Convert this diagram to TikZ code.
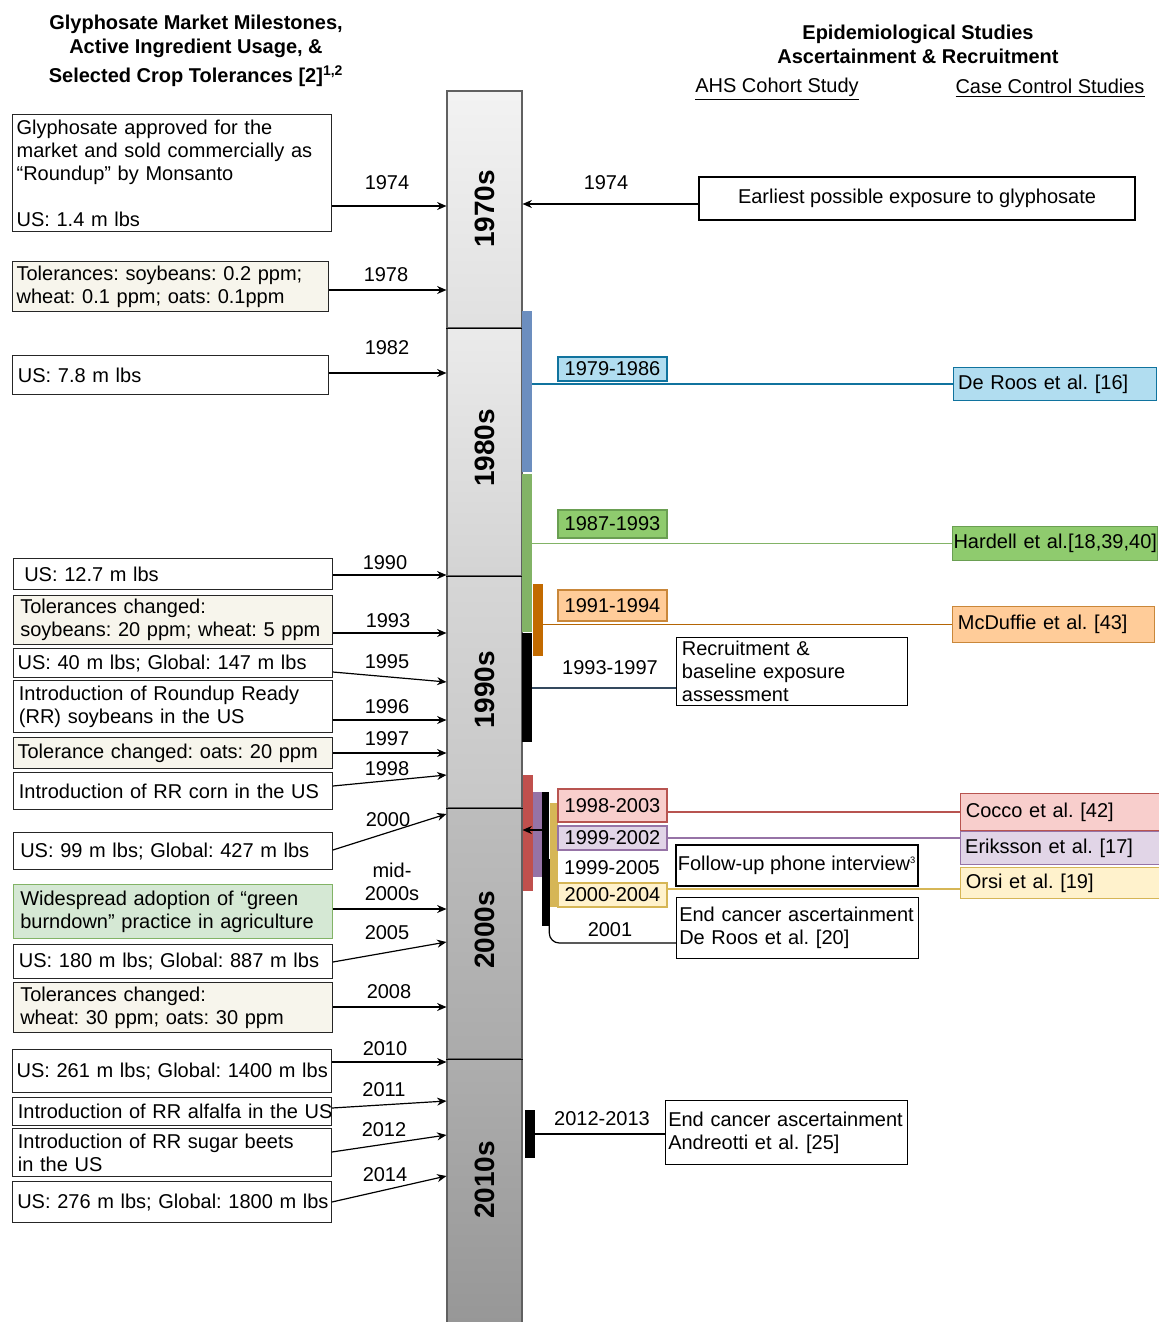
\documentclass[tikz,border=0pt]{standalone}
\usepackage{fontspec}
\setmainfont{Liberation Sans}
\usetikzlibrary{arrows.meta}
\frenchspacing
\newcommand\myfs{\fontsize{15}{17.25}\selectfont\frenchspacing}
\definecolor{beigec}{HTML}{F7F5EC}
\definecolor{greenfill}{HTML}{D5E8D4}
\definecolor{greenedge}{HTML}{82B366}
\definecolor{bluefill}{HTML}{B1DDF0}
\definecolor{blueedge}{HTML}{10739E}
\definecolor{bluebarc}{HTML}{6C8EBF}
\definecolor{hardfill}{HTML}{8FCB6E}
\definecolor{hardedge}{HTML}{6A9F52}
\definecolor{orfill}{HTML}{FFCC99}
\definecolor{oredge}{HTML}{C9873A}
\definecolor{orbarc}{HTML}{C26A00}
\definecolor{orline}{HTML}{B46504}
\definecolor{redfill}{HTML}{F8CECC}
\definecolor{rededge}{HTML}{B85450}
\definecolor{redbarc}{HTML}{C0504D}
\definecolor{purfill}{HTML}{E1D5E7}
\definecolor{puredge}{HTML}{9673A6}
\definecolor{yelfill}{HTML}{FFF2CC}
\definecolor{yeledge}{HTML}{D6B656}
\definecolor{slate}{HTML}{34495E}
\begin{document}
\begin{tikzpicture}[x=0.75pt,y=-0.75pt,
  every node/.style={font=\myfs},
  lbox/.style={draw=black!85, line width=0.9pt, fill=white, anchor=north west, align=left,
     inner xsep=3pt, inner ysep=0pt, minimum width=239pt, text width=233pt},
  dec/.style={draw=gray!75!black, line width=0.8pt, minimum width=56.25pt, inner sep=0pt},
  declab/.style={rotate=90, inner sep=0pt, font=\bfseries\fontsize{21}{21}\selectfont},
  bar/.style={inner sep=0pt, draw=none},
  lab/.style={line width=0.8pt, minimum width=81.75pt, inner sep=0pt, align=center},
  study/.style={line width=0.8pt, anchor=north west, align=left, inner ysep=0pt},
  nbox/.style={draw=black, line width=0.9pt, fill=white, inner ysep=0pt, inner xsep=3pt},
  arr/.style={-{Stealth[length=7pt,width=6pt]}, line width=0.9pt},
  yr/.style={inner sep=0pt},
  conn/.style={line width=0.9pt}
]
\path[use as bounding box, fill=white] (0,0) rectangle (1158,1322);

% ---------- headers
\node[font=\bfseries\fontsize{15}{18}\selectfont\frenchspacing, align=center, inner sep=0pt] (hleft) at (196,51)
  {Glyphosate Market Milestones,\\Active Ingredient Usage, \&\\[3.5pt]Selected Crop Tolerances [2]\textsuperscript{1,2}};
\node[font=\bfseries\fontsize{15}{18}\selectfont, align=center, inner sep=0pt] (hright) at (918,44)
  {Epidemiological Studies\\Ascertainment \& Recruitment};
\node[inner sep=0pt] (hahs) at (777,89) {\underline{AHS Cohort Study}};
\node[inner sep=0pt] (hcc) at (1050,88) {\underline{Case Control Studies}};

% ---------- timeline
\node[dec, top color=black!5, bottom color=black!12, minimum height=177.75pt] (d70) at (484.5,209.5) {};
\node[dec, top color=black!8, bottom color=black!17, minimum height=186pt] (d80) at (484.5,452) {};
\node[dec, top color=black!16, bottom color=black!22, minimum height=174pt] (d90) at (484.5,692) {};
\node[dec, top color=black!26, bottom color=black!33, minimum height=188.25pt] (d00) at (484.5,933.5) {};
\node[dec, top color=black!32, bottom color=black!41, minimum height=203.25pt] (d10) at (484.5,1194.5) {};
\draw[line width=0.8pt] (d70.south west) -- (d70.south east);
\draw[line width=0.8pt] (d80.south west) -- (d80.south east);
\draw[line width=0.8pt] (d90.south west) -- (d90.south east);
\draw[line width=0.8pt] (d00.south west) -- (d00.south east);
\node[declab] (t70) at (485,209) {1970s};
\node[declab] (t80) at (485,448) {1980s};
\node[declab] (t90) at (485,690) {1990s};
\node[declab] (t00) at (485,930) {2000s};
\node[declab] (t10) at (485,1180) {2010s};

% ---------- left boxes
\node[lbox, minimum height=87.75pt] (bA) at (12,114)
  {Glyphosate approved for the\\market and sold commercially as\\“Roundup” by Monsanto\\[17.25pt]US: 1.4 m lbs};
\node[lbox, fill=beigec, minimum width=237pt, text width=231pt, minimum height=37.5pt] (bB) at (12,261)
  {Tolerances: soybeans: 0.2 ppm;\\wheat: 0.1 ppm; oats: 0.1ppm};
\node[lbox, minimum width=237pt, text width=231pt, minimum height=29.25pt] (bC) at (12,355) {\hspace*{1pt}US: 7.8 m lbs};
\node[lbox, minimum height=23.25pt] (bD) at (13,558) {\hspace*{5pt}US: 12.7 m lbs};
\node[lbox, fill=beigec, minimum height=36.75pt] (bE) at (13,595)
  {\hspace*{2pt}Tolerances changed:\\\hspace*{2pt}soybeans: 20 ppm; wheat: 5 ppm};
\node[lbox, minimum height=21.75pt] (bF) at (13,648) {\mbox{US: 40 m lbs; Global: 147 m lbs}};
\node[lbox, minimum height=39pt] (bG) at (13,680)
  {\hspace*{1pt}Introduction of Roundup Ready\\\hspace*{1pt}(RR) soybeans in the US};
\node[lbox, fill=beigec, minimum height=23.25pt] (bH) at (13,737) {\mbox{Tolerance changed: oats: 20 ppm}};
\node[lbox, minimum height=27.75pt] (bI) at (13,772) {\mbox{\hspace*{1pt}Introduction of RR corn in the US}};
\node[lbox, minimum height=27.75pt] (bJ) at (13,832) {\mbox{\hspace*{2pt}US: 99 m lbs; Global: 427 m lbs}};
\node[lbox, draw=greenedge, fill=greenfill, minimum height=40.5pt] (bK) at (13,884)
  {\hspace*{2pt}Widespread adoption of “green\\\hspace*{2pt}burndown” practice in agriculture};
\node[lbox, minimum height=25.5pt] (bL) at (13,944) {\mbox{\hspace*{1pt}US: 180 m lbs; Global: 887 m lbs}};
\node[lbox, fill=beigec, minimum height=37.5pt] (bM) at (13,982)
  {\hspace*{2pt}Tolerances changed:\\\hspace*{2pt}wheat: 30 ppm; oats: 30 ppm};
\node[lbox, inner xsep=2pt, minimum height=32.25pt] (bN) at (12,1049) {\mbox{US: 261 m lbs; Global: 1400 m lbs}};
\node[lbox, inner xsep=1pt, text width=237pt, minimum height=21pt] (bO) at (12,1097)
  {\mbox{\hspace*{3pt}Introduction of RR alfalfa in the US}};
\node[lbox, minimum height=36pt] (bP) at (12,1128)
  {\hspace*{1pt}Introduction of RR sugar beets\\\hspace*{1pt}in the US};
\node[lbox, minimum height=30.75pt] (bQ) at (12,1181) {\mbox{\hspace*{0.5pt}US: 276 m lbs; Global: 1800 m lbs}};

% ---------- left arrows
\draw[arr] (bA.east |- 0,206) -- (d70.west |- 0,206);
\draw[arr] (bB.east |- 0,290) -- (d70.west |- 0,290);
\draw[arr] (bC.east |- 0,373) -- (d80.west |- 0,373);
\draw[arr] (bD.east |- 0,575) -- (d80.west |- 0,575);
\draw[arr] (bE.east |- 0,633) -- (d90.west |- 0,633);
\draw[arr] (bF.east |- 0,672) -- (d90.west |- 0,682);
\draw[arr] (bG.east |- 0,720) -- (d90.west |- 0,720);
\draw[arr] (bH.east |- 0,753) -- (d90.west |- 0,753);
\draw[arr] (bI.east |- 0,786) -- (d90.west |- 0,775);
\draw[arr] (bJ.east |- 0,850) -- (d00.west |- 0,814);
\draw[arr] (bK.east |- 0,909) -- (d00.west |- 0,909);
\draw[arr] (bL.east |- 0,962) -- (d00.west |- 0,942);
\draw[arr] (bM.east |- 0,1007) -- (d00.west |- 0,1007);
\draw[arr] (bN.east |- 0,1062) -- (d10.west |- 0,1062);
\draw[arr] (bO.east |- 0,1108) -- (d10.west |- 0,1101);
\draw[arr] (bP.east |- 0,1152) -- (d10.west |- 0,1135);
\draw[arr] (bQ.east |- 0,1202) -- (d10.west |- 0,1176);

% ---------- left year labels
\node[yr] (y1974) at (387,183) {1974};
\node[yr] (y1978) at (386,275) {1978};
\node[yr] (y1982) at (387,348) {1982};
\node[yr] (y1990) at (385,563) {1990};
\node[yr] (y1993) at (388,621) {1993};
\node[yr] (y1995) at (387,662) {1995};
\node[yr] (y1996) at (387,707) {1996};
\node[yr] (y1997) at (387,739) {1997};
\node[yr] (y1998) at (387,769) {1998};
\node[yr] (y2000) at (388,820) {2000};
\node[yr, align=center] (ymid) at (392,882) {mid-\\2000s};
\node[yr] (y2005) at (387,933) {2005};
\node[yr] (y2008) at (389,992) {2008};
\node[yr] (y2010) at (385,1049) {2010};
\node[yr] (y2011) at (384,1090) {2011};
\node[yr] (y2012) at (384,1130) {2012};
\node[yr] (y2014) at (385,1175) {2014};

% ---------- right: earliest exposure
\node[nbox, minimum width=327pt, minimum height=32.25pt] (earliest) at (917,198.5)
  {Earliest possible exposure to glyphosate};
\draw[arr] (earliest.west |- 0,204) -- (d70.east |- 0,204);
\node[yr] (r1974) at (606,183) {1974};

% ---------- bars
\node[bar, fill=bluebarc, minimum width=7.5pt, minimum height=120.75pt] (bblue) at (527,391.5) {};
\node[bar, fill=greenedge, minimum width=7.5pt, minimum height=118.5pt] (bgreen) at (527,553) {};
\node[bar, fill=orbarc, minimum width=7.5pt, minimum height=54pt] (borange) at (538,620) {};
\node[bar, fill=black, minimum width=7.5pt, minimum height=81.75pt] (bblack) at (527,687.5) {};
\node[bar, fill=redbarc, minimum width=7.5pt, minimum height=87pt] (bred) at (528,833) {};
\node[bar, fill=puredge, minimum width=6.75pt, minimum height=63.75pt] (bpurple) at (537.5,834.5) {};
\node[bar, fill=black, minimum width=5.25pt, minimum height=100.5pt] (bblack2) at (545.5,859) {};
\node[bar, fill=yeledge, minimum width=6pt, minimum height=78pt] (byellow) at (554,855) {};
\node[bar, fill=black, minimum width=7.5pt, minimum height=36pt] (bblack3) at (530,1134) {};

% ---------- study boxes (right)
\node[study, draw=blueedge, fill=bluefill, minimum width=152.25pt, minimum height=24.75pt,
      inner xsep=3.5pt, text width=145.25pt] (sDeRoos) at (953,367) {De Roos et al. [16]};
\node[study, draw=hardedge, fill=hardfill, minimum width=153.75pt, minimum height=25.5pt,
      inner xsep=0.75pt, text width=152.25pt] (sHardell) at (952,526) {\mbox{Hardell et al.[18,39,40]}};
\node[study, draw=oredge, fill=orfill, minimum width=151.5pt, minimum height=27pt,
      inner xsep=4pt, text width=143.5pt] (sMcDuffie) at (952,606) {McDuffie et al. [43]};
\node[study, draw=rededge, fill=redfill, minimum width=153.75pt, minimum height=27.75pt,
      inner xsep=4pt, text width=145.75pt] (sCocco) at (960,793) {Cocco et al. [42]};
\node[study, draw=puredge, fill=purfill, minimum width=153.75pt, minimum height=24.75pt,
      inner xsep=3.5pt, text width=146.75pt] (sEriksson) at (960,831) {Eriksson et al. [17]};
\node[study, draw=yeledge, fill=yelfill, minimum width=153.75pt, minimum height=23.25pt,
      inner xsep=4pt, text width=145.75pt] (sOrsi) at (960,867) {Orsi et al. [19]};

% ---------- AHS boxes
\node[nbox, anchor=north west, align=left, minimum width=173.25pt, minimum height=51pt,
      text width=167.25pt] (recruit) at (676,637) {\hspace*{1pt}Recruitment \&\\\hspace*{1pt}baseline exposure\\\hspace*{1pt}assessment};
\node[nbox, inner xsep=1pt, minimum width=181.5pt, minimum height=30.75pt] (followup) at (797,865.5)
  {Follow-up phone interview\textsuperscript{\fontsize{7}{7}\selectfont 3}};
\node[nbox, anchor=north west, align=left, inner xsep=2pt, minimum width=181.5pt, minimum height=45.75pt,
      text width=177.5pt] (endDR) at (676,897) {\mbox{End cancer ascertainment}\\De Roos et al. [20]};
\node[nbox, anchor=north west, align=left, inner xsep=2pt, minimum width=181.5pt, minimum height=48pt,
      text width=177.5pt] (endAn) at (665,1100) {\mbox{End cancer ascertainment}\\Andreotti et al. [25]};

% ---------- connector lines
\draw[conn, blueedge] (bblue.east |- sDeRoos.west) -- (sDeRoos.west);
\draw[conn, greenedge] (bgreen.east |- sHardell.west) -- (sHardell.west);
\draw[conn, orline] (borange.east |- sMcDuffie.west) -- (sMcDuffie.west);
\draw[conn, slate] (bblack.east |- 0,688) -- (recruit.west |- 0,688);
\draw[conn, rededge] (byellow.east |- sCocco.west) -- (sCocco.west);
\draw[conn, puredge] (byellow.east |- 0,838) -- (sEriksson.west |- 0,838);
\draw[conn, yeledge] (byellow.east |- 0,889) -- (sOrsi.west |- 0,889);
\draw[conn, rounded corners=7.5pt] (bblack2.east) |- (endDR.west |- 0,943);
\draw[conn] (bblack3.east) -- (endAn.west |- bblack3.east);
\draw[arr] (bblack2.west |- 0,830) -- (d00.east |- 0,830);

% ---------- period labels
\node[lab, draw=blueedge, fill=bluefill, minimum height=18pt] (l7986) at (612.5,369) {1979-1986};
\node[lab, draw=hardedge, fill=hardfill, minimum height=21pt] (l8793) at (612.5,524) {1987-1993};
\node[lab, draw=oredge, fill=orfill, minimum height=23.25pt] (l9194) at (612.5,605.5) {1991-1994};
\node[lab, draw=rededge, fill=redfill, minimum height=24.75pt] (l9803) at (612.5,805.5) {1998-2003};
\node[lab, draw=puredge, fill=purfill, minimum height=18pt] (l9902) at (612.5,838) {1999-2002};
\node[lab, draw=yeledge, fill=yelfill, minimum height=18pt] (l0004) at (612.5,895) {2000-2004};
\node[yr] (r9397) at (610,668) {1993-1997};
\node[yr] (r9905) at (612,868) {1999-2005};
\node[yr] (r2001) at (610,930) {2001};
\node[yr] (r1213) at (602,1119) {2012-2013};
\end{tikzpicture}
\end{document}
